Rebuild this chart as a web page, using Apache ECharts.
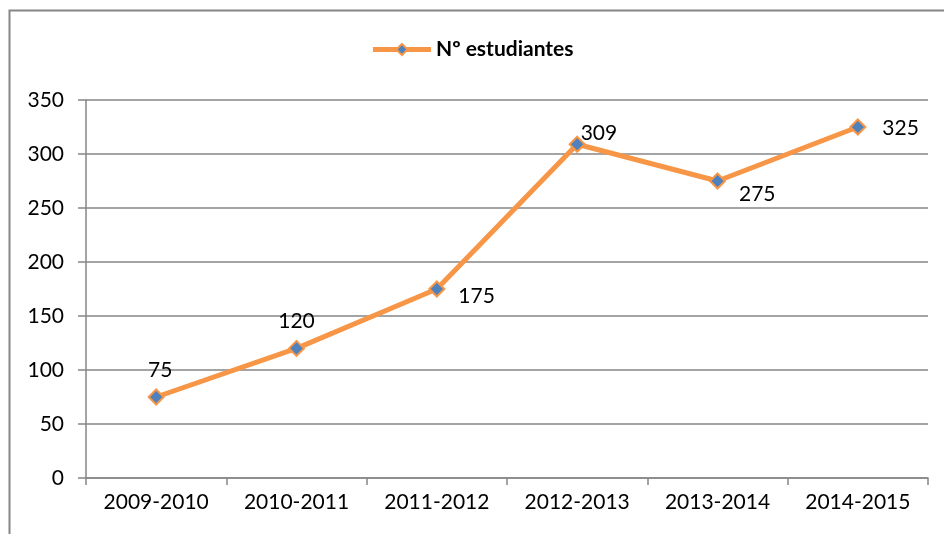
<!DOCTYPE html>
<html><head><meta charset="utf-8">
<script src="https://cdn.jsdelivr.net/npm/echarts@6/dist/echarts.min.js"></script>
<style>html,body{margin:0;padding:0;background:#fff}#c{width:944px;height:534px}</style>
</head><body><div id="c"></div>
<script>
const categories = ['2009-2010','2010-2011','2011-2012','2012-2013','2013-2014','2014-2015'];
const seriesName = 'Nº estudiantes';
const values = [75, 120, 175, 309, 275, 325];
const labelPositions = ['top','top','right','right','right','right'];
const labelOffsets = [[4,0],[0,0],[5,7],[-13,-11],[5,13],[8,1]];

const font = 'Lato, "Liberation Sans", sans-serif';
const chart = echarts.init(document.getElementById('c'));
chart.setOption({
  animation: false,
  backgroundColor: '#fff',
  textStyle: {fontFamily: font},
  graphic: [{type:'rect', shape:{x:9.5,y:10.5,width:960,height:560}, style:{fill:'none', stroke:'#868686', lineWidth:2}, silent:true}],
  legend: {
    top: 34, left: 'center',
    itemWidth: 58, itemHeight: 14, itemGap: 6,
    lineStyle: {width: 5},
    textStyle: {fontFamily: font, fontSize: 21, fontWeight: 'bold', color: '#000'},
    data: [{name: seriesName}]
  },
  grid: {left: 86, right: 16, top: 100, bottom: 56},
  xAxis: {
    type: 'category', data: categories, boundaryGap: true,
    axisLine: {lineStyle: {color: '#868686', width: 1.5}},
    axisTick: {show: true, length: 7, lineStyle: {color: '#868686', width: 1.5}},
    axisLabel: {fontSize: 21, color: '#000', margin: 14, fontFamily: font}
  },
  yAxis: {
    type: 'value', min: 0, max: 350, interval: 50,
    axisLine: {show: true, lineStyle: {color: '#868686', width: 1.5}},
    axisTick: {show: true, length: 8, lineStyle: {color: '#868686', width: 1.5}},
    splitLine: {lineStyle: {color: '#868686', width: 1.5}},
    axisLabel: {fontSize: 21, color: '#000', margin: 22, fontFamily: font}
  },
  series: [{
    name: seriesName, type: 'line',
    data: values.map((v, i) => ({
      value: v,
      label: {position: labelPositions[i], offset: labelOffsets[i]}
    })),
    symbol: 'diamond', symbolSize: 15,
    lineStyle: {color: '#F79646', width: 5},
    itemStyle: {color: '#4F81BD', borderColor: '#F79646', borderWidth: 2},
    label: {show: true, fontSize: 21, color: '#000', fontFamily: font, distance: 8}
  }]
});
</script></body></html>
